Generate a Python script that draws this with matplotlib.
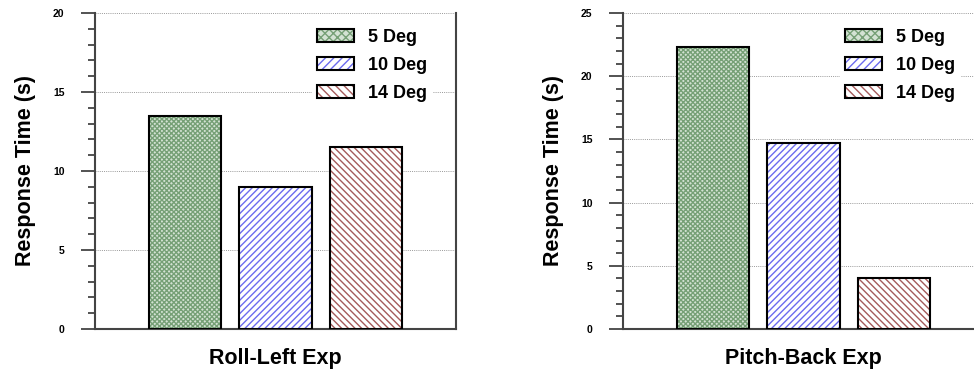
import matplotlib
matplotlib.use("Agg")
import matplotlib.pyplot as plt
from matplotlib.ticker import MultipleLocator
from matplotlib.patches import Patch
from matplotlib.legend_handler import HandlerTuple

plt.rcParams['font.family'] = ['Liberation Sans', 'DejaVu Sans']
plt.rcParams['hatch.linewidth'] = 1.0

labels = ["5 Deg", "10 Deg", "14 Deg"]
roll_left = [13.5, 9.0, 11.5]
pitch_back = [22.3, 14.7, 4.0]
panels = ["Roll-Left Exp", "Pitch-Back Exp"]
ymax = [20, 25]

faces = ["#d3e2d3", "white", "white"]
hatch_colors = ["#76a076", "#6b6bef", "#a55b5b"]
hatches = ["xxxxxxx", "/////", "\\\\\\\\\\"]

fig = plt.figure(figsize=(9.74, 3.70), dpi=100)
W, H = 974, 370
axes = [fig.add_axes([95 / W, 41 / H, 361 / W, 316 / H]),
        fig.add_axes([623 / W, 41 / H, 361 / W, 316 / H])]

for ax, vals, name, ym in zip(axes, [roll_left, pitch_back], panels, ymax):
    handles = []
    for i, (v, lab) in enumerate(zip(vals, labels)):
        ax.bar(i, v, width=0.8, facecolor=faces[i], edgecolor=hatch_colors[i],
               hatch=hatches[i], linewidth=0, zorder=3)
        ax.bar(i, v, width=0.8, facecolor='none', edgecolor='black',
               linewidth=1.5, zorder=4)
        h1 = Patch(facecolor=faces[i], edgecolor=hatch_colors[i], hatch=hatches[i][:4], linewidth=0)
        h2 = Patch(facecolor='none', edgecolor='black', linewidth=1.5)
        handles.append((h1, h2))
    ax.set_xlim(-1, 3)
    ax.set_ylim(0, ym)
    ax.yaxis.set_major_locator(MultipleLocator(5))
    ax.yaxis.set_minor_locator(MultipleLocator(1))
    ax.set_xticks([])
    ax.grid(axis='y', linestyle=(0, (1, 1.2)), color='#999999', linewidth=0.7, zorder=0)
    for s in ['left', 'bottom', 'right']:
        ax.spines[s].set_color('#444444')
        ax.spines[s].set_linewidth(1.5)
    ax.spines['top'].set_visible(False)
    ax.tick_params(axis='y', which='major', length=10, width=1.3, color='#444444',
                   labelsize=7.5, pad=12)
    ax.tick_params(axis='y', which='minor', length=5, width=1.3, color='#444444')
    for t in ax.get_yticklabels():
        t.set_fontweight('bold')
    ax.set_ylabel("Response Time (s)", fontsize=15.5, fontweight='bold', labelpad=12)
    ax.set_xlabel(name, fontsize=15.5, fontweight='bold', labelpad=14)
    leg = ax.legend(handles, labels, loc='upper right', bbox_to_anchor=(0.96, 0.995),
                    handler_map={tuple: HandlerTuple(ndivide=1, pad=0)},
                    prop={'weight': 'bold', 'size': 13}, frameon=True,
                    handlelength=2.0, handleheight=0.75, labelspacing=0.6,
                    handletextpad=0.8, borderpad=0.3, fancybox=False)
    leg.get_frame().set_edgecolor('none')
    leg.get_frame().set_facecolor('white')
    leg.get_frame().set_alpha(1)
    leg.set_zorder(5)

fig.savefig("out.png", dpi=100)
